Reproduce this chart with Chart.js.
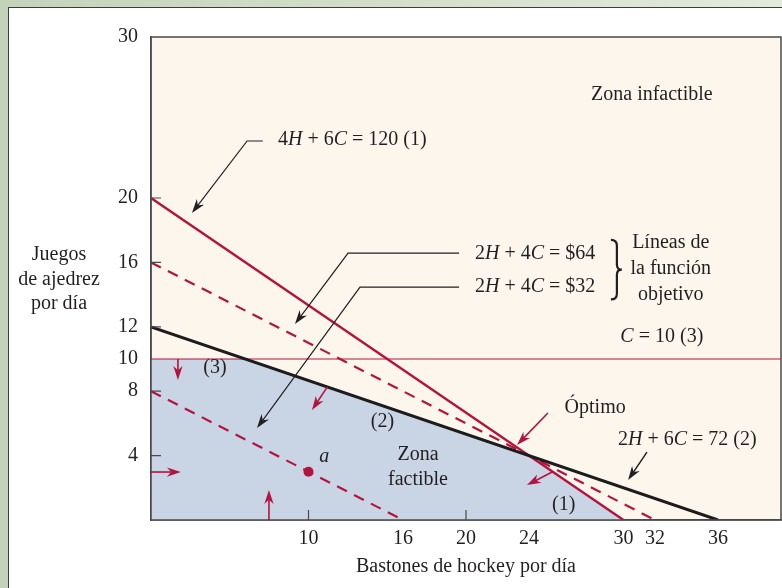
<!DOCTYPE html>
<html>
<head>
<meta charset="utf-8">
<script src="https://cdn.jsdelivr.net/npm/chart.js@4.4.1/dist/chart.umd.min.js"></script>
<style>
  html, body { margin: 0; padding: 0; }
  body { width: 782px; height: 588px; overflow: hidden; position: relative;
         background: linear-gradient(90deg, #c3d3b9, #e2eadc); }
  #panel { position: absolute; left: 8px; top: 7px; width: 800px; height: 600px;
           background: #fff; border: 1.5px solid #3c3c3c; }
  #wrap { position: absolute; left: 0; top: 0; width: 786px; height: 588px; }
</style>
</head>
<body>
<div id="panel"></div>
<div id="wrap"><canvas id="lpChart" width="786" height="588"></canvas></div>
<script>
// ejes
const xTicks = [10, 16, 20, 24, 30, 32, 36];
const yTicks = [4, 8, 10, 12, 16, 20, 30];

// restricciones (H = bastones, C = juegos)
const r1H = [0, 30], r1C = [20, 0];      // 4H + 6C = 120
const r2H = [0, 36], r2C = [12, 0];      // 2H + 6C = 72
const r3H = [0, 40], r3C = [10, 10];     // C = 10

// lineas de la funcion objetivo
const f64H = [0, 32], f64C = [16, 0];    // 2H + 4C = 64
const f32H = [0, 16], f32C = [8, 0];     // 2H + 4C = 32

// zona factible
const zonaH = [0, 0, 6, 24, 30];
const zonaC = [0, 10, 10, 4, 0];

const puntoA = { x: 10, y: 3 };

const RED = '#b3143f';
const INK = '#231f20';
const FONT = '"Liberation Serif", "Times New Roman", serif';

const pts = (hs, cs) => hs.map((h, i) => ({ x: h, y: cs[i] }));

// anotaciones en unidades de datos
const arrows = [
  { p: [[7.1, 23.54], [6.1, 23.54], [2.6, 19.07]], color: INK, lw: 1.2, head: 14 },
  { p: [[19.56, 16.58], [12.51, 16.58], [9.14, 12.17]], color: INK, lw: 1.2, head: 14 },
  { p: [[19.56, 14.47], [13.27, 14.47], [6.73, 5.71]], color: INK, lw: 1.2, head: 14 },
  { p: [[31.49, 4.22], [30.29, 2.48]], color: INK, lw: 1.5, head: 14 },
  { p: [[25.2, 6.65], [23.24, 4.66]], color: RED, lw: 1.6, head: 14 },
  { p: [[1.71, 10], [1.71, 8.7]], color: RED, lw: 1.6, head: 14 },
  { p: [[0, 2.98], [1.9, 2.98]], color: RED, lw: 1.6, head: 14 },
  { p: [[7.49, 0], [7.49, 1.86]], color: RED, lw: 1.6, head: 14 },
  { p: [[11.2, 8.27], [10.22, 6.83]], color: RED, lw: 1.6, head: 14 },
  { p: [[25.5, 3.0], [23.87, 2.17]], color: RED, lw: 1.6, head: 14 }
];

const labels = [
  { t: ['Zona infactible'], h: 31.8, c: 26.4, align: 'center' },
  { t: ['4', '*H', ' + 6', '*C', ' = 120 (1)'], h: 8.06, c: 23.6, align: 'left' },
  { t: ['2', '*H', ' + 4', '*C', ' = $64'], h: 20.57, c: 16.52, align: 'left' },
  { t: ['2', '*H', ' + 4', '*C', ' = $32'], h: 20.57, c: 14.47, align: 'left' },
  { t: ['Líneas de'], h: 33.0, c: 17.2, align: 'center' },
  { t: ['la función'], h: 33.0, c: 15.59, align: 'center' },
  { t: ['objetivo'], h: 33.0, c: 13.98, align: 'center' },
  { t: ['*C', ' = 10 (3)'], h: 29.8, c: 11.37, align: 'left' },
  { t: ['(3)'], h: 4.06, c: 9.44, align: 'center' },
  { t: ['(2)'], h: 14.7, c: 6.1, align: 'center' },
  { t: ['Zona'], h: 16.95, c: 4.04, align: 'center' },
  { t: ['factible'], h: 16.95, c: 2.48, align: 'center' },
  { t: ['(1)'], h: 26.2, c: 0.93, align: 'center' },
  { t: ['Óptimo'], h: 28.2, c: 7.0, align: 'center' },
  { t: ['2', '*H', ' + 6', '*C', ' = 72 (2)'], h: 29.65, c: 4.97, align: 'left' },
  { t: ['*a'], h: 11.0, c: 3.9, align: 'center' }
];

function rich(ctx, parts, x, y, align) {
  const fonts = parts.map(p => (p[0] === '*' ? 'italic ' : '') + '20px ' + FONT);
  const texts = parts.map(p => p.replace(/^\*/, ''));
  let w = 0;
  texts.forEach((t, i) => { ctx.font = fonts[i]; w += ctx.measureText(t).width; });
  let cx = align === 'center' ? x - w / 2 : x;
  ctx.textAlign = 'left';
  ctx.textBaseline = 'middle';
  texts.forEach((t, i) => {
    ctx.font = fonts[i];
    ctx.fillText(t, cx, y);
    cx += ctx.measureText(t).width;
  });
}

function arrow(ctx, p, color, lw, head) {
  const n = p.length;
  const [x1, y1] = p[n - 2], [x2, y2] = p[n - 1];
  const a = Math.atan2(y2 - y1, x2 - x1);
  ctx.strokeStyle = color;
  ctx.lineWidth = lw;
  ctx.beginPath();
  p.forEach((q, i) => {
    if (i === n - 1) ctx.lineTo(x2 - head * 0.6 * Math.cos(a), y2 - head * 0.6 * Math.sin(a));
    else if (i) ctx.lineTo(q[0], q[1]);
    else ctx.moveTo(q[0], q[1]);
  });
  ctx.stroke();
  ctx.fillStyle = color;
  ctx.beginPath();
  ctx.moveTo(x2, y2);
  ctx.lineTo(x2 - head * Math.cos(a) + head * 0.33 * Math.sin(a), y2 - head * Math.sin(a) - head * 0.33 * Math.cos(a));
  ctx.lineTo(x2 - head * 0.7 * Math.cos(a), y2 - head * 0.7 * Math.sin(a));
  ctx.lineTo(x2 - head * Math.cos(a) - head * 0.33 * Math.sin(a), y2 - head * Math.sin(a) + head * 0.33 * Math.cos(a));
  ctx.closePath();
  ctx.fill();
}

const decor = {
  id: 'decor',
  beforeDraw(chart) {
    const { ctx, chartArea: a } = chart;
    ctx.save();
    ctx.fillStyle = '#fdf6ed';
    ctx.fillRect(a.left, a.top, a.right - a.left, a.bottom - a.top);
    ctx.restore();
  },
  afterDraw(chart) {
    const { ctx, chartArea: a, scales: { x, y } } = chart;
    ctx.save();
    // marco
    ctx.strokeStyle = '#4a4a4a';
    ctx.lineWidth = 1.5;
    ctx.strokeRect(a.left, a.top, a.right - a.left, a.bottom - a.top);
    // marcas hacia dentro
    ctx.lineWidth = 1.2;
    ctx.beginPath();
    y.ticks.forEach(t => {
      if (t.value === 30 || t.value === 10) return;
      const py = y.getPixelForValue(t.value);
      ctx.moveTo(a.left, py); ctx.lineTo(a.left + 10, py);
    });
    [10, 20].forEach(v => {
      const px = x.getPixelForValue(v);
      ctx.moveTo(px, a.bottom); ctx.lineTo(px, a.bottom - 10);
    });
    ctx.stroke();

    const P = q => [x.getPixelForValue(q[0]), y.getPixelForValue(q[1])];
    arrows.forEach(ar => arrow(ctx, ar.p.map(P), ar.color, ar.lw, ar.head));

    ctx.fillStyle = INK;
    labels.forEach(l => rich(ctx, l.t, x.getPixelForValue(l.h), y.getPixelForValue(l.c), l.align));

    // llave
    const bx = x.getPixelForValue(29.2), t0 = y.getPixelForValue(17.4), t1 = y.getPixelForValue(13.7);
    const mid = (t0 + t1) / 2;
    ctx.strokeStyle = INK;
    ctx.lineWidth = 2.2;
    ctx.beginPath();
    ctx.moveTo(bx, t0);
    ctx.quadraticCurveTo(bx + 6, t0, bx + 6, t0 + 6);
    ctx.lineTo(bx + 6, mid - 5);
    ctx.quadraticCurveTo(bx + 6, mid, bx + 11, mid);
    ctx.quadraticCurveTo(bx + 6, mid, bx + 6, mid + 5);
    ctx.lineTo(bx + 6, t1 - 6);
    ctx.quadraticCurveTo(bx + 6, t1, bx, t1);
    ctx.stroke();

    // titulo del eje vertical
    ctx.font = '20px ' + FONT;
    ctx.textAlign = 'center';
    ctx.textBaseline = 'middle';
    ctx.fillText('Juegos', 59, 255);
    ctx.fillText('de ajedrez', 59, 280);
    ctx.fillText('por día', 59, 304);
    ctx.restore();
  }
};

new Chart(document.getElementById('lpChart'), {
  type: 'line',
  data: {
    datasets: [
      { data: pts(zonaH, zonaC), fill: 'origin', backgroundColor: '#c9d5e4', borderWidth: 0, pointRadius: 0, order: 9 },
      { data: pts(r3H, r3C), borderColor: RED, borderWidth: 1.2, pointRadius: 0, fill: false, order: 5 },
      { data: pts(f64H, f64C), borderColor: RED, borderWidth: 2.2, borderDash: [11, 8], pointRadius: 0, fill: false, order: 4 },
      { data: pts(f32H, f32C), borderColor: RED, borderWidth: 2.2, borderDash: [11, 8], pointRadius: 0, fill: false, order: 4 },
      { data: pts(r1H, r1C), borderColor: RED, borderWidth: 2.4, pointRadius: 0, fill: false, order: 3 },
      { data: pts(r2H, r2C), borderColor: '#1c1c1c', borderWidth: 3, pointRadius: 0, fill: false, order: 2 },
      { data: [puntoA], showLine: false, pointRadius: 5, pointBackgroundColor: RED, pointBorderWidth: 0, order: 1 }
    ]
  },
  options: {
    responsive: false,
    animation: false,
    layout: { padding: { top: 37, right: 0, left: 0, bottom: 0 } },
    plugins: { legend: { display: false }, tooltip: { enabled: false } },
    scales: {
      x: {
        type: 'linear', min: 0, max: 40,
        afterBuildTicks: s => { s.ticks = xTicks.map(v => ({ value: v })); },
        afterFit: s => { s.height = 68; },
        ticks: { color: INK, font: { family: FONT, size: 20 }, padding: 7, autoSkip: false, maxRotation: 0 },
        grid: { display: false, drawTicks: false },
        border: { display: true, color: '#4a4a4a', width: 1.5 },
        title: { display: true, text: 'Bastones de hockey por día', color: INK,
                 font: { family: FONT, size: 20 }, padding: { top: 0, bottom: 9 } }
      },
      y: {
        type: 'linear', min: 0, max: 30,
        afterBuildTicks: s => { s.ticks = yTicks.map(v => ({ value: v })); },
        afterFit: s => { s.width = 151; },
        ticks: { color: INK, font: { family: FONT, size: 20 }, padding: 13, autoSkip: false },
        grid: { display: false, drawTicks: false },
        border: { display: true, color: '#4a4a4a', width: 1.5 }
      }
    }
  },
  plugins: [decor]
});
</script>
</body>
</html>
